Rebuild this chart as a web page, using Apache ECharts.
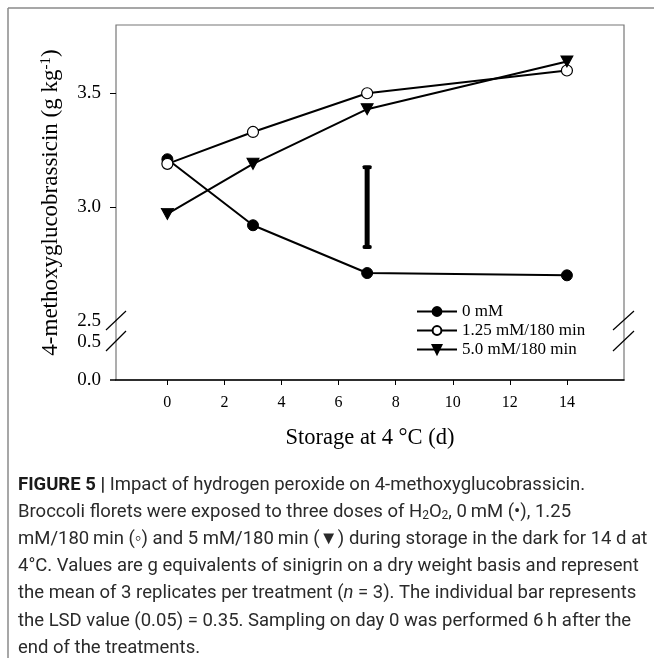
<!DOCTYPE html>
<html>
<head>
<meta charset="utf-8">
<script src="https://cdn.jsdelivr.net/npm/echarts@6/dist/echarts.min.js"></script>
<style>
  html, body { margin: 0; padding: 0; background: #fff; }
  #main { width: 654px; height: 658px; }
</style>
</head>
<body>
<div id="main"></div>
<script>
// storage days and treatment values (g kg-1)
var days = [0, 3, 7, 14];
var names = ['0 mM', '1.25 mM/180 min', '5.0 mM/180 min'];
var v0mM = [3.21, 2.92, 2.71, 2.70];
var v125 = [3.19, 3.33, 3.50, 3.60];
var v50 = [2.97, 3.19, 3.43, 3.64];
// LSD (0.05) = 0.35 bar drawn at day 7
var lsdBar = [[7, 2.825], [7, 3.175]];
var xTicks = [0, 2, 4, 6, 8, 10, 12, 14];
var yUpperLabels = [2.5, 3.0, 3.5];
var yUpperTicks = [3.0, 3.5];
var yLowerLabels = [0, 0.5];

var captionLines = [
    '{b|FIGURE 5 |} Impact of hydrogen peroxide on 4-methoxyglucobrassicin.',
    'Broccoli florets were exposed to three doses of H{sub|2}O{sub|2}, 0\u2009mM (\u2022), 1.25',
    'mM/180\u2009min (\u25e6) and 5 mM/180\u2009min (\u25bc) during storage in the dark for 14 d at',
    '4\u00b0C. Values are g equivalents of sinigrin on a dry weight basis and represent',
    'the mean of 3 replicates per treatment ({i|n} = 3). The individual bar represents',
    'the LSD value (0.05) = 0.35. Sampling on day 0 was performed 6\u2009h after the',
    'end of the treatments.'
];

function zip(xs, ys) {
    return xs.map(function (x, i) { return [x, ys[i]]; });
}

var myChart = echarts.init(document.getElementById('main'));

var serif = 'Liberation Serif';
var capFont = 'Roboto';
var capSize = 18.5;
var downTri = 'path://M0,0 L12,0 L6,10 Z';

var graphics = [
    // outer page frame
    {type: 'line', shape: {x1: 8, y1: 8, x2: 654, y2: 8}, style: {stroke: '#8a8a8a', lineWidth: 1.5}},
    {type: 'line', shape: {x1: 8, y1: 8, x2: 8, y2: 658}, style: {stroke: '#8a8a8a', lineWidth: 1.5}},
    // axis break marks
    {type: 'line', shape: {x1: 106, y1: 330, x2: 126, y2: 311}, style: {stroke: '#000', lineWidth: 1.2}},
    {type: 'line', shape: {x1: 106, y1: 351, x2: 126, y2: 331}, style: {stroke: '#000', lineWidth: 1.2}},
    {type: 'line', shape: {x1: 613, y1: 330, x2: 634, y2: 311}, style: {stroke: '#000', lineWidth: 1.2}},
    {type: 'line', shape: {x1: 613, y1: 351, x2: 634, y2: 331}, style: {stroke: '#000', lineWidth: 1.2}}
];
captionLines.forEach(function (t, i) {
    graphics.push({
        type: 'text',
        style: {
            text: t,
            x: 18,
            y: 485 + i * 27.2,
            align: 'left',
            verticalAlign: 'middle',
            fontFamily: capFont,
            fontSize: capSize,
            fill: '#2a2a2a',
            rich: {
                b: {fontFamily: capFont, fontSize: capSize, fontWeight: 'bold', fill: '#1a1a1a'},
                sub: {fontFamily: capFont, fontSize: 12, verticalAlign: 'bottom', fill: '#2a2a2a'},
                i: {fontFamily: capFont, fontSize: capSize, fontStyle: 'italic', fill: '#2a2a2a'}
            }
        }
    });
});

var option = {
    animation: false,
    backgroundColor: '#fff',
    grid: [
        {left: 116, right: 30, top: 25, height: 355, show: true, borderColor: '#777', borderWidth: 1.2},
        {left: 116, right: 30, top: 342, height: 38, show: false}
    ],
    legend: {
        data: names,
        orient: 'vertical',
        left: 411,
        top: 298,
        itemWidth: 40,
        itemHeight: 11,
        itemGap: 2,
        textStyle: {fontFamily: serif, fontSize: 17, lineHeight: 17, color: '#000'}
    },
    xAxis: [
        {
            gridIndex: 0, type: 'value', min: -1.8, max: 16,
            name: 'Storage at 4 \u00b0C (d)', nameLocation: 'middle', nameGap: 47,
            nameTextStyle: {fontFamily: serif, fontSize: 22.5, color: '#000'},
            axisLine: {show: true, onZero: false, lineStyle: {color: '#000', width: 1.5}},
            axisTick: {show: true, customValues: xTicks, length: 5, lineStyle: {color: '#000'}},
            axisLabel: {customValues: xTicks, margin: 15, fontFamily: serif, fontSize: 16, color: '#000'},
            splitLine: {show: false}
        },
        {gridIndex: 1, type: 'value', min: -1.8, max: 16, show: false}
    ],
    yAxis: [
        {
            gridIndex: 0, type: 'value', min: 2.24, max: 3.8,
            name: '4-methoxyglucobrassicin (g kg{sup|-1})', nameLocation: 'middle', nameGap: 54,
            nameTextStyle: {
                fontFamily: serif, fontSize: 23, color: '#000',
                rich: {sup: {fontFamily: serif, fontSize: 15, verticalAlign: 'top', color: '#000'}}
            },
            axisLine: {show: false, onZero: false},
            axisTick: {show: true, customValues: yUpperTicks, length: 6, lineStyle: {color: '#000'}},
            axisLabel: {
                customValues: yUpperLabels, margin: 15, fontFamily: serif, fontSize: 19, color: '#000',
                formatter: function (v) { return v.toFixed(1); }
            },
            splitLine: {show: false}
        },
        {
            gridIndex: 1, type: 'value', min: 0, max: 0.5,
            axisLine: {show: false, onZero: false},
            axisTick: {show: true, customValues: [0], length: 6, lineStyle: {color: '#000', width: 1.5}},
            axisLabel: {
                customValues: yLowerLabels, margin: 15, fontFamily: serif, fontSize: 19, color: '#000',
                formatter: function (v) { return v.toFixed(1); }
            },
            splitLine: {show: false}
        }
    ],
    series: [
        {
            name: names[0], type: 'line', data: zip(days, v0mM),
            symbol: 'circle', symbolSize: 11,
            lineStyle: {color: '#000', width: 2},
            itemStyle: {color: '#000', borderColor: '#000', borderWidth: 1}
        },
        {
            name: names[1], type: 'line', data: zip(days, v125),
            symbol: 'circle', symbolSize: 11,
            lineStyle: {color: '#000', width: 2},
            itemStyle: {color: '#fff', borderColor: '#000', borderWidth: 1.2}
        },
        {
            name: names[2], type: 'line', data: zip(days, v50),
            symbol: downTri, symbolSize: [12, 11],
            lineStyle: {color: '#000', width: 2},
            itemStyle: {color: '#000', borderColor: '#000', borderWidth: 1}
        },
        {
            name: 'LSD', type: 'line', data: lsdBar,
            symbol: 'roundRect', symbolSize: [9, 4],
            lineStyle: {color: '#000', width: 5, cap: 'butt'},
            itemStyle: {color: '#000'}
        }
    ],
    graphic: graphics
};

myChart.setOption(option);
</script>
</body>
</html>
